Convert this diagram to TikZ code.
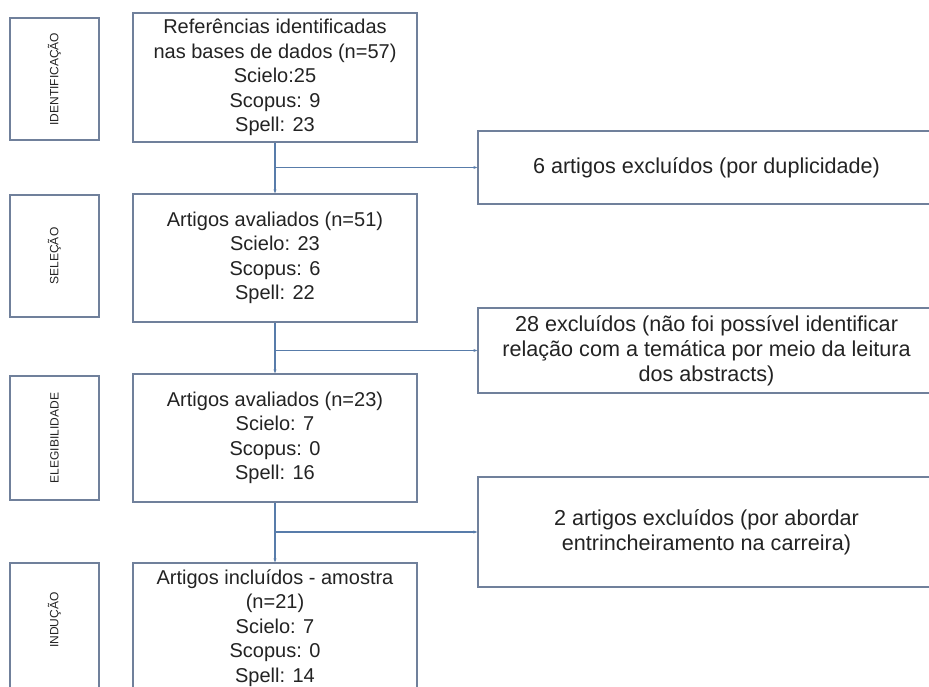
\documentclass[tikz,border=0pt]{standalone}
\usepackage{fontspec}
\setmainfont{Liberation Sans}
\usetikzlibrary{arrows.meta}

\definecolor{bordacaixa}{RGB}{112,128,155}
\definecolor{linha}{RGB}{88,124,170}
\definecolor{texto}{RGB}{35,35,35}

\tikzset{
	etapa/.style={draw=bordacaixa, line width=1.3pt, minimum width=89, inner sep=0pt, text=texto, font=\fontsize{12}{14}\selectfont},
	caixa/.style={draw=bordacaixa, line width=1.3pt, minimum width=284, inner sep=0pt, align=center, text=texto, font=\fontsize{20}{24.5}\selectfont},
	exclusao/.style={draw=bordacaixa, line width=1.3pt, minimum width=457, inner sep=0pt, align=center, text=texto, font=\fontsize{21.6}{25}\selectfont},
	seta/.style={draw=linha, line width=1.1pt, -{Stealth[length=4pt,width=3pt]}}
}

\begin{document}
\begin{tikzpicture}[x=1pt, y=-1pt]
\useasboundingbox (0,0) rectangle (929,686);
\fill[white] (0,0) rectangle (929,686);

% Etapas
	\foreach \y/\h/\nome in {79/122/e1, 256/122/e2, 438/124/e3, 640/154/e4}
		\node[etapa, minimum height=\h] (\nome) at (54.5,\y) {};

	\foreach \y/\txt in {79/IDENTIFICAÇÃO, 256/SELEÇÃO, 438/ELEGIBILIDADE, 620/INDUÇÃO}
		\node[rotate=90, text=texto, font=\fontsize{12}{14}\selectfont] at (54.5,\y) {\txt};

% Fluxo principal
\node[caixa, minimum height=129] (m1) at (275,77.5) {Referências identificadas\\nas bases de dados (n=57)\\Scielo:25\\Scopus: 9\\Spell: 23};
\node[caixa, minimum height=128] (m2) at (275,258) {Artigos avaliados (n=51)\\Scielo: 23\\Scopus: 6\\Spell: 22};
\node[caixa, minimum height=128] (m3) at (275,438) {Artigos avaliados (n=23)\\Scielo: 7\\Scopus: 0\\Spell: 16};
\node[caixa, minimum height=130] (m4) at (275,628) {Artigos incluídos - amostra\\(n=21)\\Scielo: 7\\Scopus: 0\\Spell: 14};

% Exclusoes
\node[exclusao, minimum height=73] (x1) at (706.5,167.5) {6 artigos excluídos (por duplicidade)};
\node[exclusao, minimum height=85] (x2) at (706.5,350.5) {28 excluídos (não foi possível identificar\\relação com a temática por meio da leitura\\dos abstracts)};
\node[exclusao, minimum height=110] (x3) at (706.5,532) {2 artigos excluídos (por abordar\\entrincheiramento na carreira)};

% Conectores
\draw[seta] (m1) -- (m2);
\draw[seta] (m2) -- (m3);
\draw[seta] (m3) -- (m4);

\draw[seta] (m1.south |- x1.west) -- (x1.west);
\draw[seta] (m2.south |- x2.west) -- (x2.west);
\draw[seta] (m3.south |- x3.west) -- (x3.west);
\end{tikzpicture}
\end{document}
